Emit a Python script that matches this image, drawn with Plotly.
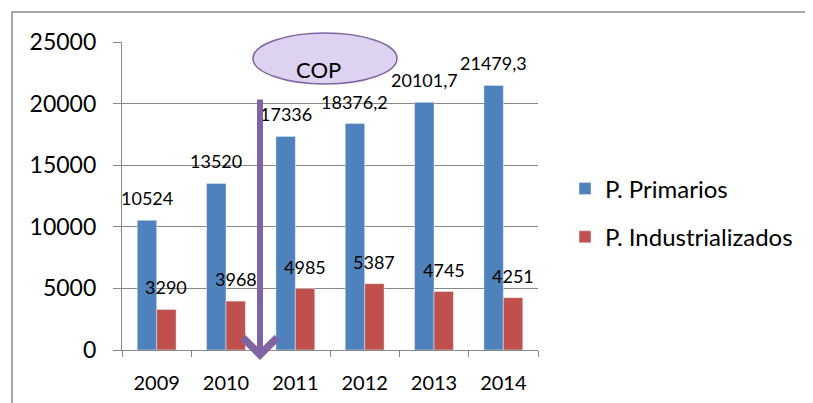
import plotly.graph_objects as go

years = ["2009", "2010", "2011", "2012", "2013", "2014"]
primarios = [10524, 13520, 17336, 18376.2, 20101.7, 21479.3]
industrializados = [3290, 3968, 4985, 5387, 4745, 4251]
series_names = ["P. Primarios", "P. Industrializados"]
y_ticks = [0, 5000, 10000, 15000, 20000, 25000]

OFF = 8  # page body margin
W, H = 813 - OFF, 403 - OFF
ML, MT, PW, PH = 122 - OFF, 42 - OFF, 416, 308
MR, MB = W - ML - PW, H - MT - PH
BARGAP = 0.44
FONT = "Lato, Carlito, 'Liberation Sans', sans-serif"
BLUE, RED = "#4f81bd", "#c0504d"
PURPLE = "#8064a2"
GRID = "#888888"


def px(xp):  # page x -> paper
    return (xp - OFF - ML) / PW


def py(yp):  # page y -> paper
    return (MT + PH - (yp - OFF)) / PH


def fmt(v):
    return ("%g" % v).replace(".", ",")


fig = go.Figure()
fig.add_trace(go.Bar(x=years, y=primarios, name=series_names[0], marker_color=BLUE,
                     legendgroup="a"))
fig.add_trace(go.Bar(x=years, y=industrializados, name=series_names[1], marker_color=RED,
                     legendgroup="b"))

cat_px = PW / len(years)
bar_px = cat_px * (1 - BARGAP) / 2
annotations = []
for vals, sh in ((primarios, -bar_px / 2), (industrializados, bar_px / 2)):
    for i, v in enumerate(vals):
        annotations.append(dict(x=i, y=v, xref="x", yref="y", text=fmt(v), showarrow=False,
                                xshift=sh, yshift=22, yanchor="middle",
                                font=dict(family=FONT, size=18, color="black")))

# COP callout text
annotations.append(dict(xref="paper", yref="paper", x=px(318), y=py(69),
                        text="COP", showarrow=False, yanchor="middle", xanchor="center",
                        font=dict(family=FONT, size=22, color="black")))
# purple arrow
annotations.append(dict(xref="paper", yref="paper", x=px(260), y=py(360),
                        text="", showarrow=True, axref="pixel", ayref="pixel", ax=0, ay=-262,
                        arrowhead=4, arrowsize=1.1, arrowwidth=6, arrowcolor=PURPLE))

shapes = [
    # outer frame
    dict(type="rect", xref="paper", yref="paper",
         x0=px(12), x1=3, y0=-3, y1=py(12),
         line=dict(color="#8c8c8c", width=1.5), fillcolor="rgba(0,0,0,0)", layer="below"),
    # COP ellipse
    dict(type="circle", xref="paper", yref="paper",
         x0=px(253), x1=px(397), y0=py(84), y1=py(33),
         line=dict(color=PURPLE, width=1.5), fillcolor="#ddd2ef", layer="above"),
]

fig.update_layout(
    width=W, height=H,
    margin=dict(l=ML, r=MR, t=MT, b=MB, autoexpand=False),
    paper_bgcolor="white", plot_bgcolor="white",
    barmode="group", bargap=BARGAP, bargroupgap=0,
    font=dict(family=FONT, color="black"),
    showlegend=True,
    legend=dict(x=px(565), xanchor="left", y=py(213), yanchor="middle",
                font=dict(family=FONT, size=24, color="black"),
                tracegroupgap=14, traceorder="grouped", bgcolor="rgba(0,0,0,0)"),
    annotations=annotations,
    shapes=shapes,
)
fig.update_xaxes(type="category", categoryorder="array", categoryarray=years,
                 range=[-0.5, len(years) - 0.5], autorange=False,
                 showline=True, linecolor=GRID, linewidth=1.3,
                 ticks="outside", tickson="boundaries", ticklen=6, tickcolor=GRID, tickwidth=1.3,
                 tickfont=dict(family=FONT, size=20, color="black"), ticklabelstandoff=15,
                 tickangle=0, showgrid=False, zeroline=False)
fig.update_yaxes(range=[0, 25000], autorange=False, tickvals=y_ticks, tickformat="d",
                 showline=True, linecolor=GRID, linewidth=1.3,
                 ticks="outside", ticklen=8, tickcolor=GRID, tickwidth=1.3,
                 tickfont=dict(family=FONT, size=23, color="black"), ticklabelstandoff=12,
                 showgrid=True, gridcolor=GRID, gridwidth=1.3, zeroline=False)

fig.write_html("out.html")
